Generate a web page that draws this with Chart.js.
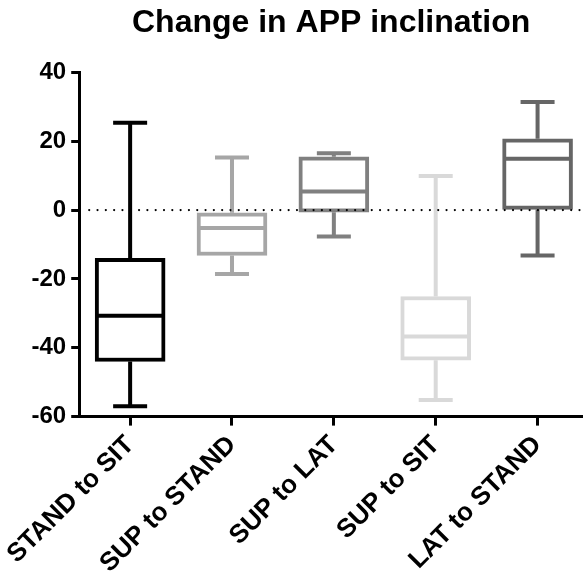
<!DOCTYPE html>
<html lang="en">
<head>
  <meta charset="UTF-8" />
  <title>Change in APP inclination</title>
  <script src="https://cdn.jsdelivr.net/npm/chart.js"></script>
  <style>
    html, body {
      margin: 0;
      padding: 0;
      background: #ffffff;
    }
    .wrap {
      width: 583px;
      height: 575px;
      overflow: hidden;
    }
  </style>
</head>
<body>
  <div class="wrap">
    <canvas id="appChart" width="583" height="575"></canvas>
  </div>

  <script>
  // values
  const categories = ['STAND to SIT', 'SUP to STAND', 'SUP to LAT', 'SUP to SIT', 'LAT to STAND'];
  const whiskerMin = [-57, -18.6, -7.7, -55.2, -13.2];
  const quartile1  = [-44, -13.2, -0.6, -43.6, 0.2];
  const medians    = [-30.7, -5.2, 5.4, -36.7, 14.9];
  const quartile3  = [-14, -0.8, 15.5, -25.1, 20.7];
  const whiskerMax = [25.4, 15.3, 16.5, 9.9, 31.4];
  const boxColors  = ['#000000', '#a6a6a6', '#808080', '#d9d9d9', '#666666'];

  const FONT = "'Liberation Sans', Arial, sans-serif";
  const LINE_W = 4;
  const CAP_W = 34;

  // whiskers, medians and the dotted zero line
  const boxPlotExtras = {
    id: 'boxPlotExtras',
    afterDatasetsDraw(chart) {
      const ctx = chart.ctx;
      const x = chart.scales.x;
      const y = chart.scales.y;
      const meta = chart.getDatasetMeta(0);

      ctx.save();
      ctx.lineCap = 'butt';
      categories.forEach((cat, i) => {
        const cx = x.getPixelForValue(i);
        const half = meta.data[i].width / 2;
        ctx.strokeStyle = boxColors[i];
        ctx.lineWidth = LINE_W;

        ctx.beginPath();
        // upper whisker
        ctx.moveTo(cx, y.getPixelForValue(whiskerMax[i]));
        ctx.lineTo(cx, y.getPixelForValue(quartile3[i]));
        ctx.moveTo(cx - CAP_W / 2, y.getPixelForValue(whiskerMax[i]));
        ctx.lineTo(cx + CAP_W / 2, y.getPixelForValue(whiskerMax[i]));
        // lower whisker
        ctx.moveTo(cx, y.getPixelForValue(quartile1[i]));
        ctx.lineTo(cx, y.getPixelForValue(whiskerMin[i]));
        ctx.moveTo(cx - CAP_W / 2, y.getPixelForValue(whiskerMin[i]));
        ctx.lineTo(cx + CAP_W / 2, y.getPixelForValue(whiskerMin[i]));
        // median
        ctx.moveTo(cx - half + 1, y.getPixelForValue(medians[i]));
        ctx.lineTo(cx + half - 1, y.getPixelForValue(medians[i]));
        ctx.stroke();
      });

      // dotted reference line at 0
      const y0 = y.getPixelForValue(0);
      ctx.strokeStyle = '#000000';
      ctx.lineWidth = 2.2;
      ctx.lineCap = 'round';
      ctx.setLineDash([0.01, 8.3]);
      ctx.beginPath();
      ctx.moveTo(chart.chartArea.left + 10, y0);
      ctx.lineTo(chart.chartArea.right, y0);
      ctx.stroke();
      ctx.restore();
    }
  };

  const ctx = document.getElementById('appChart').getContext('2d');

  new Chart(ctx, {
    type: 'bar',
    data: {
      datasets: [{
        label: 'Change in APP inclination',
        data: categories.map((c, i) => ({ x: i, y: [quartile1[i], quartile3[i]] })),
        backgroundColor: '#ffffff',
        borderColor: boxColors,
        borderWidth: LINE_W,
        borderSkipped: false,
        barThickness: 70
      }]
    },
    options: {
      responsive: false,
      animation: false,
      events: [],
      layout: {
        padding: { left: 17, right: 0, top: 0, bottom: -8 }
      },
      plugins: {
        legend: { display: false },
        tooltip: { enabled: false },
        title: {
          display: true,
          text: 'Change in APP inclination',
          fullSize: false,
          color: '#000000',
          font: { family: FONT, size: 32, weight: 'bold' },
          padding: { top: 4, bottom: 30 }
        }
      },
      scales: {
        x: {
          type: 'linear',
          min: -0.5,
          max: 4.446,
          offset: false,
          afterBuildTicks(scale) {
            scale.ticks = categories.map((c, i) => ({ value: i }));
          },
          ticks: {
            autoSkip: false,
            maxRotation: 45,
            minRotation: 45,
            color: '#000000',
            padding: 4,
            font: { family: FONT, size: 26, weight: 'bold' },
            callback: (v) => categories[v]
          },
          grid: {
            offset: false,
            drawOnChartArea: false,
            drawTicks: true,
            tickLength: 9,
            tickWidth: 3,
            tickColor: '#000000'
          },
          border: { color: '#000000', width: 3 }
        },
        y: {
          min: -60,
          max: 40,
          ticks: {
            stepSize: 20,
            color: '#000000',
            padding: 5,
            font: { family: FONT, size: 24, weight: 'bold' }
          },
          grid: {
            drawOnChartArea: false,
            drawTicks: true,
            tickLength: 8,
            tickWidth: 3,
            tickColor: '#000000'
          },
          border: { color: '#000000', width: 3 }
        }
      }
    },
    plugins: [boxPlotExtras]
  });
  </script>
</body>
</html>
